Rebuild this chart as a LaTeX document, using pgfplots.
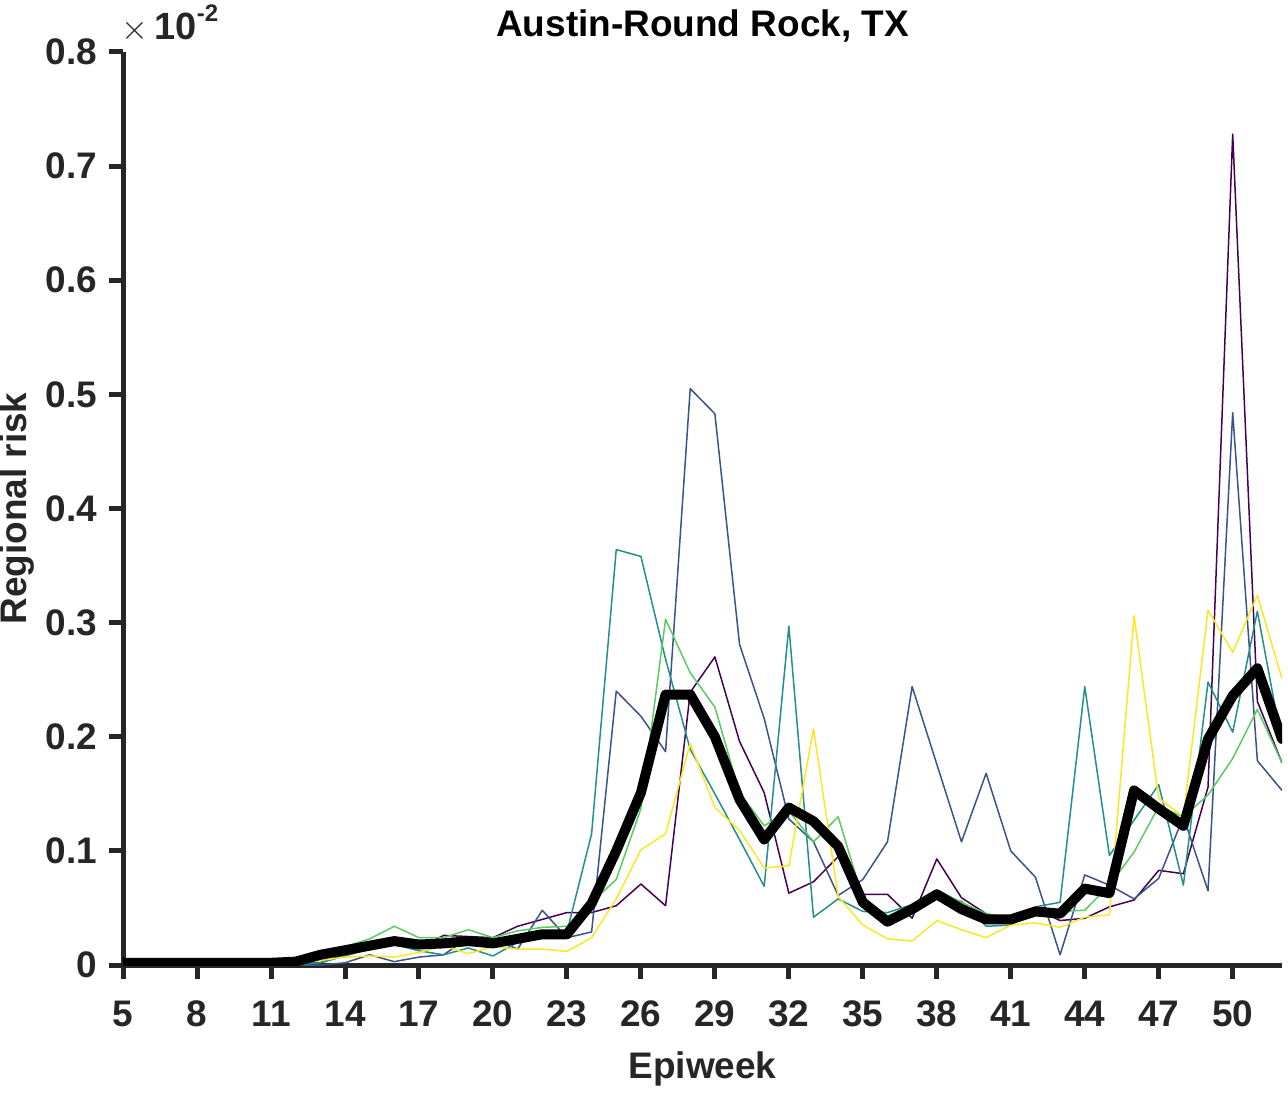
\documentclass[border=0pt]{standalone}
\usepackage{fontspec}
\setmainfont{Liberation Sans}
\usepackage{pgfplots}
\pgfplotsset{compat=1.18}
\usepackage{pgfplotstable}
\definecolor{axc}{HTML}{262626}
\definecolor{vP}{HTML}{440154}
\definecolor{vB}{HTML}{3B528B}
\definecolor{vT}{HTML}{21908C}
\definecolor{vG}{HTML}{5DC963}
\definecolor{vY}{HTML}{FDE725}
\pgfplotstableread{
w   P      B      T      G      Y      M
5   0      0      0      0      0      0.002
6   0      0      0      0      0      0.002
7   0      0      0      0      0      0.002
8   0      0      0      0      0      0.002
9   0      0      0      0      0      0.002
10  0      0      0      0      0      0.002
11  0      0      0      0      0.001  0.002
12  0.001  0      0      0.002  0.002  0.003
13  0.002  0      0.002  0.011  0.004  0.009
14  0.009  0.002  0.008  0.016  0.007  0.013
15  0.017  0.009  0.014  0.023  0.008  0.017
16  0.019  0.003  0.018  0.034  0.007  0.021
17  0.015  0.007  0.0125 0.024  0.011  0.018
18  0.026  0.009  0.009  0.024  0.017  0.019
19  0.025  0.024  0.015  0.031  0.010  0.021
20  0.024  0.023  0.008  0.024  0.016  0.019
21  0.034  0.014  0.020  0.030  0.014  0.023
22  0.040  0.048  0.026  0.033  0.014  0.027
23  0.046  0.024  0.029  0.034  0.012  0.027
24  0.046  0.029  0.115  0.055  0.024  0.054
25  0.052  0.240  0.364  0.075  0.058  0.100
26  0.071  0.218  0.358  0.137  0.101  0.151
27  0.052  0.187  0.268  0.303  0.115  0.237
28  0.239  0.505  0.189  0.256  0.194  0.237
29  0.270  0.483  0.150  0.226  0.138  0.200
30  0.196  0.281  0.110  0.151  0.118  0.145
31  0.151  0.216  0.069  0.122  0.085  0.110
32  0.063  0.128  0.297  0.135  0.087  0.138
33  0.073  0.108  0.042  0.108  0.207  0.126
34  0.095  0.061  0.058  0.130  0.060  0.104
35  0.062  0.075  0.047  0.058  0.035  0.055
36  0.062  0.108  0.046  0.043  0.023  0.038
37  0.041  0.244  0.053  0.053  0.021  0.049
38  0.093  0.176  0.058  0.066  0.039  0.062
39  0.059  0.108  0.056  0.055  0.031  0.049
40  0.045  0.168  0.034  0.045  0.024  0.040
41  0.039  0.100  0.035  0.041  0.035  0.040
42  0.049  0.077  0.051  0.049  0.037  0.047
43  0.039  0.009  0.055  0.047  0.033  0.045
44  0.041  0.079  0.244  0.048  0.042  0.067
45  0.051  0.070  0.096  0.070  0.044  0.063
46  0.057  0.058  0.127  0.099  0.306  0.153
47  0.083  0.076  0.158  0.139  0.146  0.137
48  0.080  0.130  0.070  0.130  0.130  0.122
49  0.156  0.065  0.248  0.149  0.311  0.198
50  0.728  0.484  0.204  0.181  0.274  0.236
51  0.231  0.179  0.310  0.224  0.324  0.260
52  0.177  0.153  0.194  0.177  0.251  0.198
}\data
\begin{document}
\begin{tikzpicture}
\begin{axis}[
  name=ax,
  scale only axis, width=580pt, height=457pt,
  xmin=5, xmax=52, ymin=0, ymax=0.8,
  axis x line*=bottom, axis y line*=left,
  axis line style={line width=2.5pt, color=axc, -},
  tick align=outside, major tick length=7pt,
  tick style={line width=2.5pt, color=axc},
  xtick={5,8,11,14,17,20,23,26,29,32,35,38,41,44,47,50},
  ytick={0,0.1,0.2,0.3,0.4,0.5,0.6,0.7,0.8},
  scaled y ticks=false,
  yticklabel style={/pgf/number format/fixed, /pgf/number format/precision=1},
  /pgf/number format/assume math mode=true,
  ticklabel style={font=\fontsize{18.5}{21}\selectfont\bfseries, color=axc},
  xticklabel style={yshift=-7.5pt},
  yticklabel style={xshift=-2.5pt},
  xlabel={Epiweek},
  ylabel={Regional risk},
  xlabel style={yshift=-5.5pt},
  ylabel style={inner sep=0pt},
  ylabel shift=2pt,
  label style={font=\fontsize{18.5}{21}\selectfont\bfseries, color=axc},
  title={Austin-Round Rock, TX},
  title style={font=\fontsize{18.5}{21}\selectfont\bfseries, at={(0.5,1)}, anchor=base, yshift=1.5pt},
  every axis plot/.append style={line join=round},
]
\addplot[vP, line width=0.75pt] table[x=w, y=P] {\data};
\addplot[vB, line width=0.75pt] table[x=w, y=B] {\data};
\addplot[vT, line width=0.75pt] table[x=w, y=T] {\data};
\addplot[vG, line width=0.75pt] table[x=w, y=G] {\data};
\addplot[vY, line width=0.75pt] table[x=w, y=Y] {\data};
\addplot[black, line width=5pt, line cap=round] table[x=w, y=M] {\data};
\end{axis}
\node[anchor=base west, font=\fontsize{19}{21}\selectfont\bfseries, inner sep=0pt, text=axc] at ([xshift=-1pt, yshift=6pt]ax.north west) {{\mdseries\fontsize{18}{20}\selectfont$\times$}\,10\raisebox{9pt}{\fontsize{12}{12}\selectfont -2}};
\path ([xshift=3pt]ax.south east);
\path ([yshift=26pt]ax.north west);
\end{tikzpicture}
\end{document}
